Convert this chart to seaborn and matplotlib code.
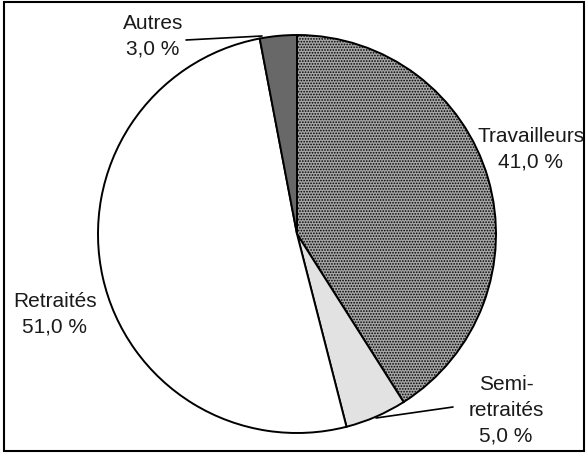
import matplotlib
matplotlib.use("Agg")
import matplotlib.pyplot as plt
from matplotlib.patches import Rectangle
import seaborn as sns

sns.set_theme(style="white")
plt.rcParams['font.family'] = ['Liberation Sans Narrow', 'Liberation Sans', 'DejaVu Sans']
plt.rcParams['hatch.linewidth'] = 0.8
plt.rcParams['hatch.color'] = '#2e2e2e'

# parts de la population, dans le sens horaire depuis midi
categories = ['Travailleurs', 'Semi-\nretraités', 'Retraités', 'Autres']
values = [41.0, 5.0, 51.0, 3.0]
fills = ['#a6a6a6', '#e2e2e2', '#ffffff', '#686868']

fig = plt.figure(figsize=(5.87, 4.54), dpi=100)
ax = fig.add_axes([0, 0, 1, 1])

# coordonnées en pixels, y vers le haut
cx, cy, r = 297, 220, 199
wedges, _ = ax.pie(values, colors=fills, startangle=90, counterclock=False,
                   center=(cx, cy), radius=r,
                   wedgeprops=dict(edgecolor='black', linewidth=1.4))
wedges[0].set_hatch('......')

ax.set_xlim(0, 587)
ax.set_ylim(0, 454)
ax.set_aspect('equal')
ax.axis('off')

labels = [f"{c}\n{v:.1f} %".replace('.', ',') for c, v in zip(categories, values)]
fs = 15
style = dict(ha='center', va='center', fontsize=fs, linespacing=1.45, color='#1a1a1a')

ax.text(531, 454 - 149, labels[0], **style)
ax.text(55, 454 - 314, labels[2], **style)
ax.text(506, 454 - 410, labels[1], **style)
ax.text(153, 454 - 36, labels[3], **style)

# traits de rappel
ax.plot([376, 453], [454 - 418, 454 - 407], color='black', lw=1.2)
ax.plot([262, 186], [454 - 36, 454 - 40], color='black', lw=1.2)

ax.add_patch(Rectangle((4, 3), 580, 449, fill=False, edgecolor='black', lw=1.5, clip_on=False))

fig.savefig('out.png', dpi=100)
